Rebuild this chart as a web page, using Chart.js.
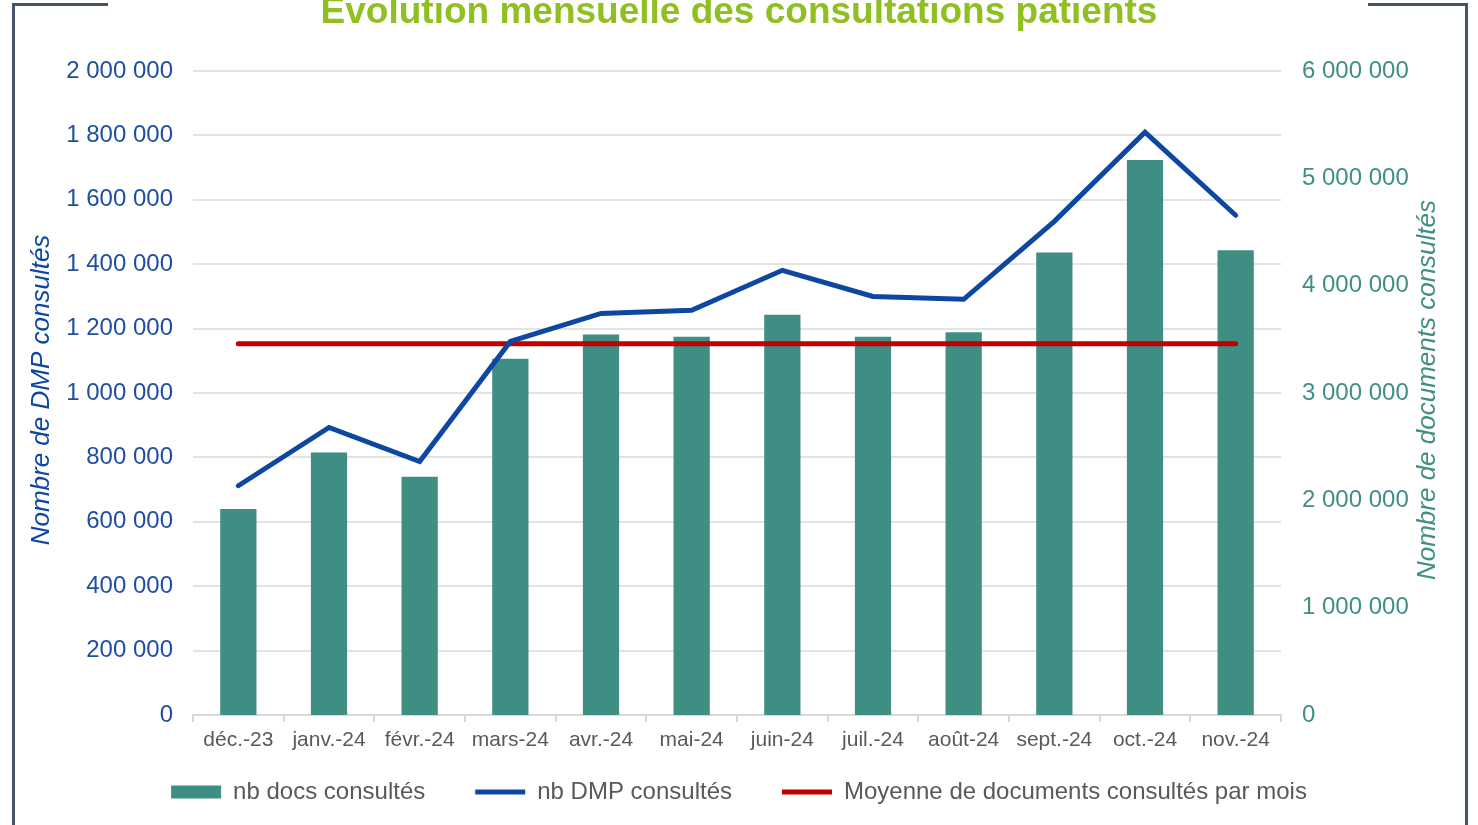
<!DOCTYPE html>
<html lang="fr">
<head>
<meta charset="utf-8">
<script src="https://cdn.jsdelivr.net/npm/chart.js@4/dist/chart.umd.min.js"></script>
<style>
  html, body { margin: 0; padding: 0; background: #fff; }
  #wrap { width: 1478px; height: 825px; }
</style>
</head>
<body>
<div id="wrap"><canvas id="dmpChart" width="1478" height="825"></canvas></div>
<script>
// mois
const mois = ['déc.-23', 'janv.-24', 'févr.-24', 'mars-24', 'avr.-24', 'mai-24',
  'juin-24', 'juil.-24', 'août-24', 'sept.-24', 'oct.-24', 'nov.-24'];

// nb docs consultés (axe droit)
const nbDocs = [1920000, 2445000, 2220000, 3320000, 3545000, 3525000,
  3730000, 3525000, 3565000, 4310000, 5170000, 4330000];

// nb DMP consultés (axe gauche)
const nbDmp = [712000, 893000, 787000, 1160000, 1247000, 1257000,
  1381000, 1300000, 1291000, 1533000, 1810000, 1552000];

// moyenne docs / mois (axe droit)
const moyenneDocs = [3460000, 3460000, 3460000, 3460000, 3460000, 3460000,
  3460000, 3460000, 3460000, 3460000, 3460000, 3460000];

const fmt = v => String(Math.round(v)).replace(/\B(?=(\d{3})+(?!\d))/g, ' ');

const FONT = "'Liberation Sans', Arial, sans-serif";

// titre, titres d'axes et cadre dessinés à la main
const decor = {
  id: 'decor',
  afterDraw(chart) {
    const ctx = chart.ctx;
    ctx.save();
    // cadre
    ctx.strokeStyle = '#44546A';
    ctx.lineWidth = 3;
    ctx.beginPath();
    ctx.moveTo(108, 4.5); ctx.lineTo(13.5, 4.5); ctx.lineTo(13.5, 825);
    ctx.moveTo(1368, 4.5); ctx.lineTo(1466.5, 4.5); ctx.lineTo(1466.5, 825);
    ctx.stroke();
    // titre
    ctx.fillStyle = '#8FBF21';
    ctx.font = 'bold 37px ' + FONT;
    ctx.textAlign = 'center';
    ctx.textBaseline = 'alphabetic';
    ctx.fillText('Évolution mensuelle des consultations patients', 739, 23);
    // titres axes
    ctx.font = 'italic 26px ' + FONT;
    ctx.textBaseline = 'middle';
    ctx.fillStyle = '#0D47A1';
    ctx.save();
    ctx.translate(42, 390);
    ctx.rotate(-Math.PI / 2);
    ctx.fillText('Nombre de DMP consultés', 0, 0);
    ctx.restore();
    ctx.fillStyle = '#3F8F85';
    ctx.save();
    ctx.translate(1428, 390);
    ctx.rotate(-Math.PI / 2);
    ctx.fillText('Nombre de documents consultés', 0, 0);
    ctx.restore();
    ctx.restore();
  }
};

new Chart(document.getElementById('dmpChart'), {
  type: 'bar',
  data: {
    labels: mois,
    datasets: [{
      type: 'bar',
      label: 'nb docs consultés',
      data: nbDocs,
      yAxisID: 'y1',
      backgroundColor: '#3E8E84',
      borderWidth: 0,
      categoryPercentage: 1,
      barPercentage: 0.4,
      pointStyle: 'rect',
      order: 3
    }, {
      type: 'line',
      label: 'nb DMP consultés',
      data: nbDmp,
      yAxisID: 'y',
      borderColor: '#0D47A1',
      backgroundColor: '#0D47A1',
      borderWidth: 5,
      borderCapStyle: 'round',
      pointRadius: 0,
      pointStyle: 'line',
      tension: 0,
      order: 1
    }, {
      type: 'line',
      label: 'Moyenne de documents consultés par mois',
      data: moyenneDocs,
      yAxisID: 'y1',
      borderColor: '#C00000',
      backgroundColor: '#C00000',
      borderWidth: 5,
      borderCapStyle: 'round',
      pointRadius: 0,
      pointStyle: 'line',
      order: 2
    }]
  },
  options: {
    responsive: false,
    animation: false,
    layout: { padding: { top: 71, left: 0, right: 0, bottom: 11 } },
    scales: {
      x: {
        offset: true,
        afterFit: s => {
          s.height = 15;
          s._computeLabelArea = () => undefined; // pas de découpe des libellés
        },
        border: { color: '#D9D9D9', width: 2 },
        grid: { offset: true, drawOnChartArea: false, color: '#D9D9D9', lineWidth: 2, tickLength: 7 },
        ticks: { color: '#595959', font: { family: FONT, size: 21 }, padding: 6, maxRotation: 0 }
      },
      y: {
        position: 'left',
        min: 0,
        max: 2000000,
        afterFit: s => { s.width = 193; },
        border: { display: false },
        grid: { color: '#E3E3E3', lineWidth: 2, drawTicks: false },
        ticks: { stepSize: 200000, color: '#1F4E9F', font: { family: FONT, size: 24 }, padding: 20, callback: v => fmt(v) }
      },
      y1: {
        position: 'right',
        min: 0,
        max: 6000000,
        afterFit: s => { s.width = 197; },
        border: { display: false },
        grid: { display: false, drawTicks: false },
        ticks: { stepSize: 1000000, color: '#3F8F85', font: { family: FONT, size: 24 }, padding: 21, callback: v => fmt(v) }
      }
    },
    plugins: {
      title: { display: false },
      tooltip: { enabled: false },
      legend: {
        display: true,
        position: 'bottom',
        labels: {
          usePointStyle: true,
          pointStyleWidth: 50,
          boxHeight: 13,
          padding: 50,
          color: '#595959',
          font: { family: FONT, size: 24 },
          sort: (a, b) => a.datasetIndex - b.datasetIndex
        }
      }
    }
  },
  plugins: [decor]
});
</script>
</body>
</html>
